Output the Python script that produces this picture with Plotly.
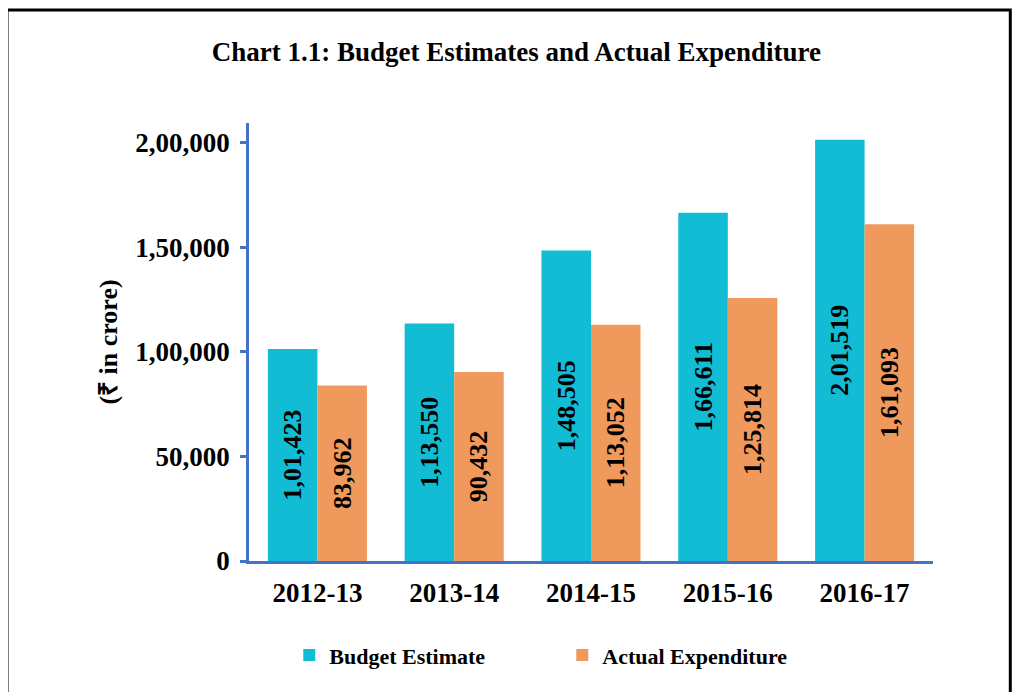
import plotly.graph_objects as go

years = ["2012-13", "2013-14", "2014-15", "2015-16", "2016-17"]
budget_estimate = [101423, 113550, 148505, 166611, 201519]
actual_expenditure = [83962, 90432, 113052, 125814, 161093]
budget_labels = ["1,01,423", "1,13,550", "1,48,505", "1,66,611", "2,01,519"]
actual_labels = ["83,962", "90,432", "1,13,052", "1,25,814", "1,61,093"]
tick_vals = [0, 50000, 100000, 150000, 200000]
tick_text = ["0", "50,000", "1,00,000", "1,50,000", "2,00,000"]

FONT = "Liberation Serif, Times New Roman, serif"
AXIS_COLOR = "#4472C4"

fig = go.Figure()
fig.add_trace(go.Bar(
    name="<b>Budget Estimate</b>", x=years, y=budget_estimate,
    marker=dict(color="#12BCD4", line=dict(width=0)),
    text=["<b>%s</b>" % t for t in budget_labels], textposition="inside", insidetextanchor="middle",
    textangle=-90, textfont=dict(family=FONT, size=26, color="black"),
    cliponaxis=False,
))
fig.add_trace(go.Bar(
    name="<b>Actual Expenditure</b>", x=years, y=actual_expenditure,
    marker=dict(color="#F0995C", line=dict(width=0)),
    text=["<b>%s</b>" % t for t in actual_labels], textposition="inside", insidetextanchor="middle",
    textangle=-90, textfont=dict(family=FONT, size=26, color="black"),
    cliponaxis=False,
))

fig.update_layout(
    width=1021, height=692,
    paper_bgcolor="white", plot_bgcolor="white",
    margin=dict(l=241, r=96, t=115, b=139),
    barmode="group", bargap=0.276, bargroupgap=0,
    uniformtext=dict(mode=False),
    font=dict(family=FONT, color="black"),
    title=dict(
        text="<b>Chart 1.1: Budget Estimates and Actual Expenditure</b>",
        x=0.498, xanchor="center", y=0.937, yanchor="middle",
        font=dict(family=FONT, size=27, color="black"),
    ),
    legend=dict(
        orientation="h", x=0.458, xanchor="center", y=-0.215, yanchor="middle",
        font=dict(family=FONT, size=22, color="black"),
        itemwidth=30, tracegroupgap=0,
        entrywidth=228,
    ),
    showlegend=True,
)
fig.update_xaxes(
    showline=True, linecolor=AXIS_COLOR, linewidth=2.5,
    ticks="", tickfont=dict(family=FONT, size=27, color="black"),
    tickprefix="<b>", ticksuffix="</b>", ticklabelstandoff=6,
    showgrid=False,
)
fig.update_yaxes(
    range=[0, 209500], tickvals=tick_vals, ticktext=["<b>%s</b>" % t for t in tick_text],
    showline=True, linecolor=AXIS_COLOR, linewidth=2.5,
    ticks="outside", ticklen=6, tickcolor=AXIS_COLOR, tickwidth=2.5,
    ticklabelstandoff=5,
    tickfont=dict(family=FONT, size=27, color="black"),
    showgrid=False, zeroline=False,
    title=dict(text="<b>(₹ in crore)</b>", font=dict(family=FONT, size=26, color="black"), standoff=11),
)
fig.add_shape(
    type="rect", xref="paper", yref="paper",
    x0=-0.3538, x1=1.113, y0=-0.32, y1=1.258,
    line=dict(color="black", width=3), fillcolor="rgba(0,0,0,0)", layer="below",
)
fig.write_html("out.html")
